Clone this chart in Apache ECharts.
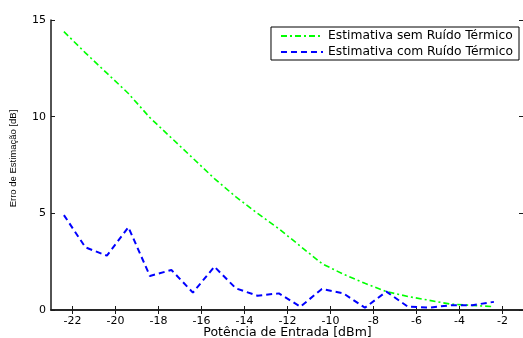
<!DOCTYPE html>
<html>
<head>
<meta charset="utf-8">
<script src="https://cdn.jsdelivr.net/npm/echarts@6/dist/echarts.min.js"></script>
<style>
html,body{margin:0;padding:0;background:#fff;}
#c{width:523px;height:338px;}
</style>
</head>
<body>
<div id="c"></div>
<script>
var potencia = [-22.4,-21.4,-20.4,-19.4,-18.4,-17.4,-16.4,-15.4,-14.4,-13.4,-12.4,-11.4,-10.4,-9.4,-8.4,-7.4,-6.4,-5.4,-4.4,-3.4,-2.4];
var semRuido = [14.4,13.3,12.25,11.2,9.95,8.9,7.85,6.8,5.85,5.0,4.2,3.3,2.4,1.85,1.38,0.95,0.7,0.5,0.3,0.24,0.17];
var comRuido = [4.91,3.24,2.81,4.28,1.76,2.07,0.9,2.24,1.12,0.74,0.86,0.17,1.09,0.86,0.12,0.95,0.17,0.12,0.25,0.25,0.42];
var xTicks = [-22,-20,-18,-16,-14,-12,-10,-8,-6,-4,-2];
var yTicks = [0,5,10,15];
var seriesNames = ['Estimativa sem Ruído Térmico','Estimativa com Ruído Térmico'];
var xTitle = 'Potência de Entrada [dBm]';
var yTitle = 'Erro de Estimação [dB]';

function pairs(xs, ys){ return xs.map(function(x,i){ return [x, ys[i]]; }); }

var chart = echarts.init(document.getElementById('c'), null, {renderer:'canvas'});
var axLine = {show:true, lineStyle:{color:'#1a1a1a', width:1.5}};
var font = 'DejaVu Sans';
chart.setOption({
  animation:false,
  backgroundColor:'#fff',
  grid:{left:51, right:-1, top:20, bottom:28, containLabel:false, outerBoundsMode:'none'},
  xAxis:[{
    type:'value', min:-23, max:-1, position:'bottom',
    axisLine:axLine,
    axisTick:{show:true, inside:true, length:4, lineStyle:{color:'#1a1a1a'}, customValues:xTicks},
    axisLabel:{show:true, customValues:xTicks, color:'#000', fontFamily:font, fontSize:11, margin:6},
    splitLine:{show:false},
    name:xTitle, nameLocation:'middle', nameGap:16, nameMoveOverlap:false,
    nameTextStyle:{color:'#000', fontFamily:font, fontSize:12.5}
  },{
    type:'value', min:-23, max:-1, position:'top',
    axisLine:axLine,
    axisTick:{show:true, inside:true, length:4, lineStyle:{color:'#1a1a1a'}, customValues:xTicks},
    axisLabel:{show:false},
    splitLine:{show:false}
  }],
  yAxis:[{
    type:'value', min:0, max:15, interval:5, position:'left',
    axisLine:axLine,
    axisTick:{show:true, inside:true, length:4, lineStyle:{color:'#1a1a1a'}, customValues:yTicks},
    axisLabel:{show:true, customValues:yTicks, color:'#000', fontFamily:font, fontSize:11, margin:5},
    splitLine:{show:false},
    name:yTitle, nameLocation:'middle', nameGap:33, nameRotate:90, nameMoveOverlap:false,
    nameTextStyle:{color:'#000', fontFamily:'Liberation Sans', fontSize:9.5, padding:[0,0,0,13]}
  },{
    type:'value', min:0, max:15, interval:5, position:'right',
    axisLine:{show:false},
    axisTick:{show:true, inside:true, length:5, lineStyle:{color:'#1a1a1a'}, customValues:yTicks},
    axisLabel:{show:false},
    splitLine:{show:false}
  }],
  legend:{
    orient:'vertical', right:4, top:27,
    itemWidth:42, itemHeight:12, itemGap:4,
    padding:[3,6,2,9],
    backgroundColor:'#fff', borderColor:'#000', borderWidth:1, borderRadius:0,
    itemStyle:{opacity:0},
    textStyle:{color:'#000', fontFamily:font, fontSize:12.3},
    data:seriesNames
  },
  series:[{
    name:seriesNames[0], type:'line', xAxisIndex:0, yAxisIndex:0,
    data:pairs(potencia, semRuido), showSymbol:false, symbol:'none',
    lineStyle:{color:'#00ff00', width:1.6, type:[6,3,2,3]},
    itemStyle:{color:'#00ff00'}
  },{
    name:seriesNames[1], type:'line', xAxisIndex:0, yAxisIndex:0,
    data:pairs(potencia, comRuido), showSymbol:false, symbol:'none',
    lineStyle:{color:'#0000ff', width:2, type:[6,4]},
    itemStyle:{color:'#0000ff'}
  }]
});
</script>
</body>
</html>
